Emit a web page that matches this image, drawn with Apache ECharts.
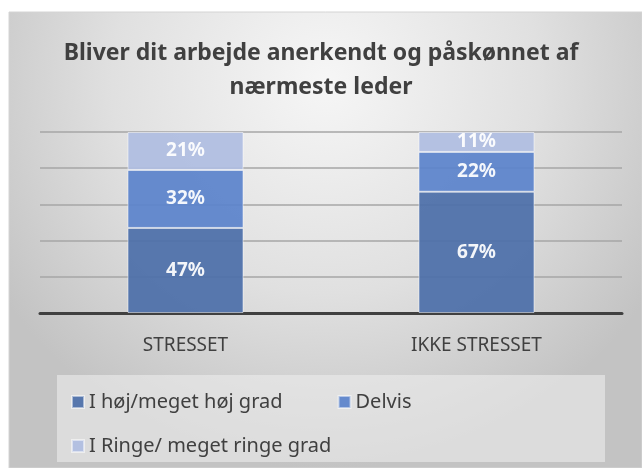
<!DOCTYPE html>
<html>
<head>
<meta charset="utf-8">
<script src="https://cdn.jsdelivr.net/npm/echarts@6/dist/echarts.min.js"></script>
<style>
  html, body { margin: 0; padding: 0; background: #ffffff; }
  #chart { width: 642px; height: 468px; }
</style>
</head>
<body>
<div id="chart"></div>
<script>
// data
const categories = ['STRESSET', 'IKKE STRESSET']
const seriesNames = ['I høj/meget høj grad', 'Delvis', 'I Ringe/ meget ringe grad']
const hoejGrad = [47, 67]
const delvis = [32, 22]
const ringeGrad = [21, 11]

const colors = ['#4c6fa9', '#5b83cb', '#afbde1']
const font = 'Noto Sans'

const chart = echarts.init(document.getElementById('chart'))

const makeSerie = (name, data, i) => ({
  name,
  type: 'bar',
  stack: 'total',
  data,
  barWidth: 116,
  itemStyle: {
    color: colors[i],
    opacity: 0.93,
    borderColor: 'rgba(255,255,255,0.55)',
    borderWidth: 1
  },
  label: {
    show: true,
    position: 'inside',
    formatter: '{c}%',
    color: '#ffffff',
    fontFamily: font,
    fontWeight: 'bold',
    fontSize: 19
  }
})

chart.setOption({
  animation: false,
  graphic: [
    {
      type: 'rect',
      z: -10,
      shape: { x: 9, y: 12, width: 633, height: 456 },
      style: {
        fill: new echarts.graphic.RadialGradient(0.5, 0.15, 0.85, [
          { offset: 0, color: '#f6f6f6' },
          { offset: 0.55, color: '#e0e0e0' },
          { offset: 1, color: '#c3c3c3' }
        ]),
        stroke: '#d4d4d4',
        lineWidth: 1
      }
    },
    {
      type: 'rect',
      z: -9,
      shape: { x: 57, y: 375, width: 548, height: 87 },
      style: { fill: 'rgba(236,236,236,0.6)' }
    }
  ],
  title: {
    text: 'Bliver dit arbejde anerkendt og påskønnet af\nnærmeste leder',
    left: 'center',
    top: 31,
    textStyle: {
      fontFamily: font,
      fontWeight: 'bold',
      fontSize: 23,
      lineHeight: 34,
      color: '#404040'
    }
  },
  legend: [
    {
      data: seriesNames.slice(0, 2),
      left: 66,
      top: 387,
      itemWidth: 12,
      itemHeight: 12,
      itemGap: 55,
      icon: 'rect',
      textStyle: { fontFamily: font, fontSize: 20, color: '#404040' }
    },
    {
      data: seriesNames.slice(2),
      left: 66,
      top: 431,
      itemWidth: 12,
      itemHeight: 12,
      icon: 'rect',
      textStyle: { fontFamily: font, fontSize: 20, color: '#404040' }
    }
  ],
  grid: { left: 40, right: 20, top: 132, bottom: 155 },
  xAxis: {
    type: 'category',
    data: categories,
    axisTick: { show: false },
    axisLine: { lineStyle: { color: '#404040', width: 3 } },
    axisLabel: {
      margin: 23,
      fontFamily: font,
      fontSize: 19,
      color: '#404040'
    }
  },
  yAxis: {
    type: 'value',
    min: 0,
    max: 100,
    interval: 20,
    axisLabel: { show: false },
    axisLine: { show: false },
    axisTick: { show: false },
    splitLine: { lineStyle: { color: '#a6a6a6', width: 1.5 } }
  },
  series: [
    makeSerie(seriesNames[0], hoejGrad, 0),
    makeSerie(seriesNames[1], delvis, 1),
    makeSerie(seriesNames[2], ringeGrad, 2)
  ]
})
</script>
</body>
</html>
